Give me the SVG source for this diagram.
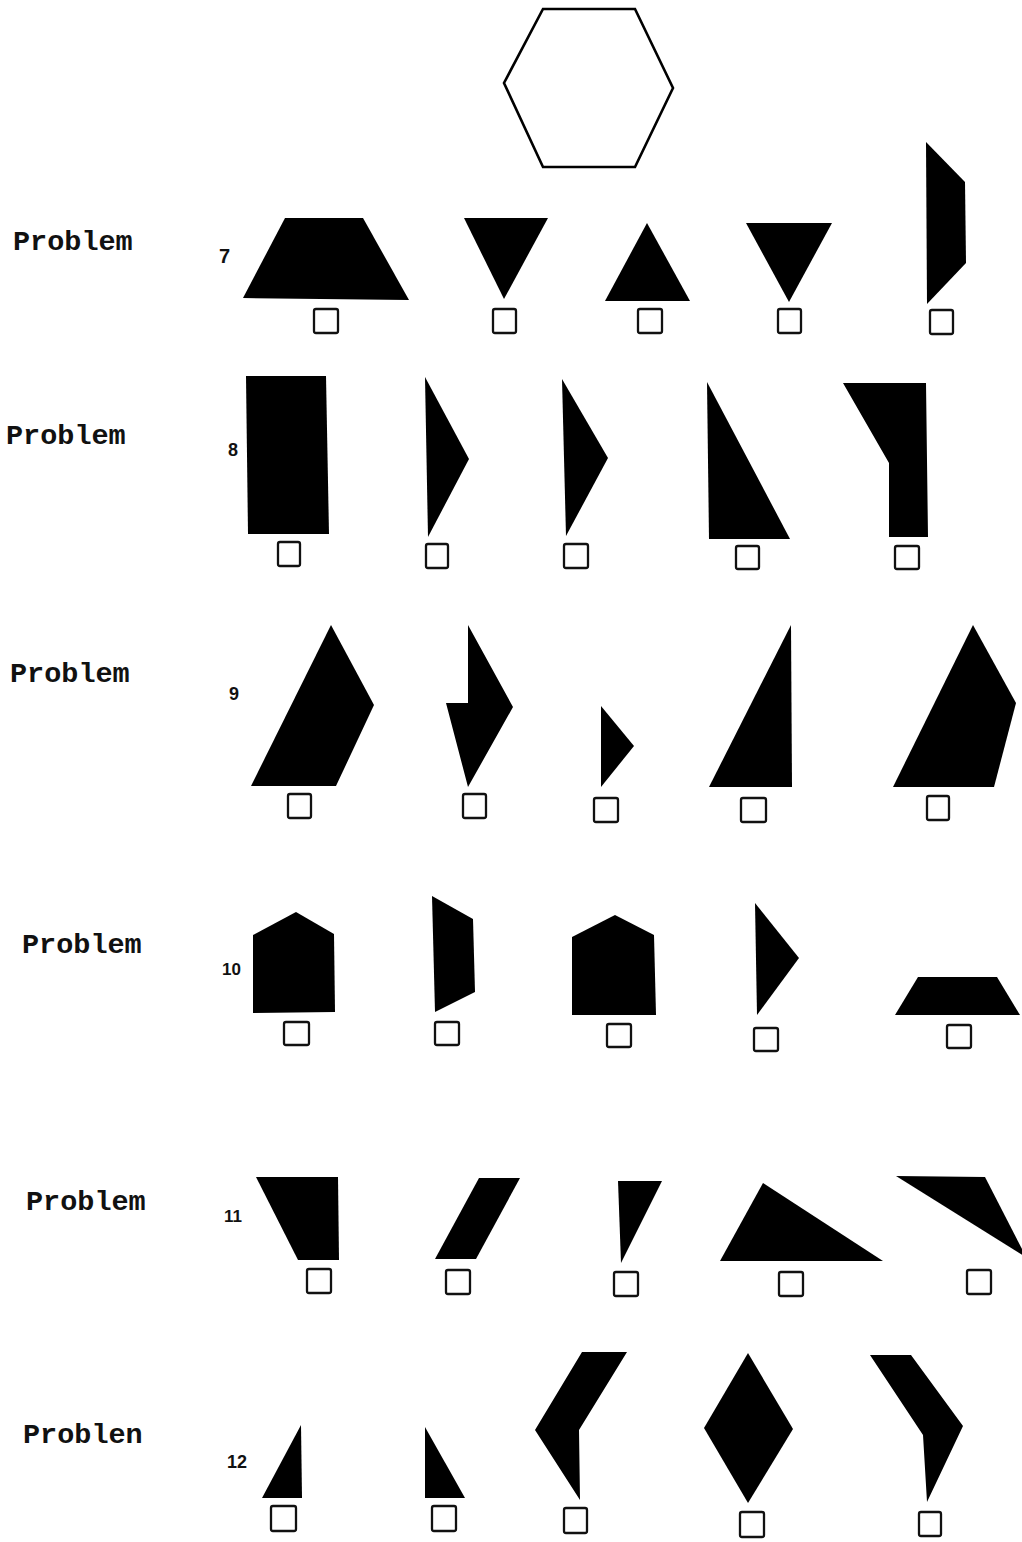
<svg xmlns="http://www.w3.org/2000/svg" width="1022" height="1542" viewBox="0 0 1022 1542">
<style>
.lbl{font-family:"Liberation Mono","DejaVu Sans Mono",monospace;font-weight:bold;font-size:28.5px;fill:#111}
.num{font-family:"Liberation Sans",Arial,sans-serif;font-weight:bold;font-size:18px;fill:#111}
.sh{fill:#000}
.box{fill:none;stroke:#111;stroke-width:2.3}
</style>
<rect width="1022" height="1542" fill="#fff"/>
<g id="hexagon">
<polygon points="543,9 635,9 673,88 635,167 543,167 504,83" fill="none" stroke="#000" stroke-width="2.6"/>
</g>
<g id="problem7">
<text class="lbl" x="13" y="250">Problem</text>
<text class="num" x="219" y="263" style="font-size:20px">7</text>
<polygon class="sh" points="285,218 363,218 409,300 243,298"/>
<rect class="box" x="314" y="309" width="24" height="24" rx="2"/>
<polygon class="sh" points="464,218 548,218 504,299"/>
<rect class="box" x="493" y="309" width="23" height="24" rx="2"/>
<polygon class="sh" points="647,223 690,301 605,301"/>
<rect class="box" x="638" y="309" width="24" height="24" rx="2"/>
<polygon class="sh" points="746,223 832,223 789,302"/>
<rect class="box" x="778" y="309" width="23" height="24" rx="2"/>
<polygon class="sh" points="926,142 965,182 966,263 927,304"/>
<rect class="box" x="930" y="310" width="23" height="24" rx="2"/>
</g>
<g id="problem8">
<text class="lbl" x="6" y="444">Problem</text>
<text class="num" x="228" y="456">8</text>
<polygon class="sh" points="246,376 326,376 329,534 248,534"/>
<rect class="box" x="278" y="542" width="22" height="24" rx="2"/>
<polygon class="sh" points="425,377 469,459 428,537"/>
<rect class="box" x="426" y="544" width="22" height="24" rx="2"/>
<polygon class="sh" points="562,379 608,458 566,536"/>
<rect class="box" x="564" y="544" width="24" height="24" rx="2"/>
<polygon class="sh" points="707,382 790,539 709,539"/>
<rect class="box" x="736" y="546" width="23" height="23" rx="2"/>
<polygon class="sh" points="843,383 926,383 928,537 889,537 889,463"/>
<rect class="box" x="895" y="546" width="24" height="23" rx="2"/>
</g>
<g id="problem9">
<text class="lbl" x="10" y="682">Problem</text>
<text class="num" x="229" y="700">9</text>
<polygon class="sh" points="331,625 374,705 336,786 251,786"/>
<rect class="box" x="288" y="794" width="23" height="24" rx="2"/>
<polygon class="sh" points="468,625 513,707 468,787 446,703 468,703"/>
<rect class="box" x="463" y="794" width="23" height="24" rx="2"/>
<polygon class="sh" points="601,706 634,746 601,787"/>
<rect class="box" x="594" y="798" width="24" height="24" rx="2"/>
<polygon class="sh" points="791,625 792,787 709,787"/>
<rect class="box" x="741" y="798" width="25" height="24" rx="2"/>
<polygon class="sh" points="973,625 1016,703 994,787 893,787"/>
<rect class="box" x="927" y="796" width="22" height="24" rx="2"/>
</g>
<g id="problem10">
<text class="lbl" x="22" y="953">Problem</text>
<text class="num" x="222" y="975" style="font-size:17px">10</text>
<polygon class="sh" points="296,912 334,934 335,1012 253,1013 253,935"/>
<rect class="box" x="284" y="1022" width="25" height="23" rx="2"/>
<polygon class="sh" points="432,896 473,919 475,992 435,1012"/>
<rect class="box" x="435" y="1022" width="24" height="23" rx="2"/>
<polygon class="sh" points="615,915 654,935 656,1015 572,1015 572,937"/>
<rect class="box" x="607" y="1024" width="24" height="23" rx="2"/>
<polygon class="sh" points="755,903 799,958 757,1015"/>
<rect class="box" x="754" y="1028" width="24" height="23" rx="2"/>
<polygon class="sh" points="918,977 997,977 1020,1015 895,1015"/>
<rect class="box" x="947" y="1025" width="24" height="23" rx="2"/>
</g>
<g id="problem11">
<text class="lbl" x="26" y="1210">Problem</text>
<text class="num" x="224" y="1222" style="font-size:17px">11</text>
<polygon class="sh" points="256,1177 338,1177 339,1260 298,1260"/>
<rect class="box" x="307" y="1269" width="24" height="24" rx="2"/>
<polygon class="sh" points="479,1178 520,1178 476,1259 435,1259"/>
<rect class="box" x="446" y="1270" width="24" height="24" rx="2"/>
<polygon class="sh" points="618,1181 662,1181 621,1263"/>
<rect class="box" x="614" y="1272" width="24" height="24" rx="2"/>
<polygon class="sh" points="763,1183 883,1261 720,1261"/>
<rect class="box" x="779" y="1272" width="24" height="24" rx="2"/>
<polygon class="sh" points="896,1176 985,1177 1024,1253 1024,1256"/>
<rect class="box" x="967" y="1270" width="24" height="24" rx="2"/>
</g>
<g id="problem12">
<text class="lbl" x="23" y="1443">Problen</text>
<text class="num" x="227" y="1468">12</text>
<polygon class="sh" points="301,1425 302,1498 262,1498"/>
<rect class="box" x="271" y="1506" width="25" height="25" rx="2"/>
<polygon class="sh" points="425,1427 465,1498 425,1498"/>
<rect class="box" x="432" y="1506" width="24" height="25" rx="2"/>
<polygon class="sh" points="582,1352 627,1352 579,1430 580,1500 535,1430"/>
<rect class="box" x="564" y="1508" width="23" height="25" rx="2"/>
<polygon class="sh" points="748,1353 793,1429 748,1503 704,1428"/>
<rect class="box" x="740" y="1512" width="24" height="25" rx="2"/>
<polygon class="sh" points="870,1355 911,1355 963,1426 927,1502 923,1435"/>
<rect class="box" x="919" y="1512" width="22" height="24" rx="2"/>
</g>
</svg>
